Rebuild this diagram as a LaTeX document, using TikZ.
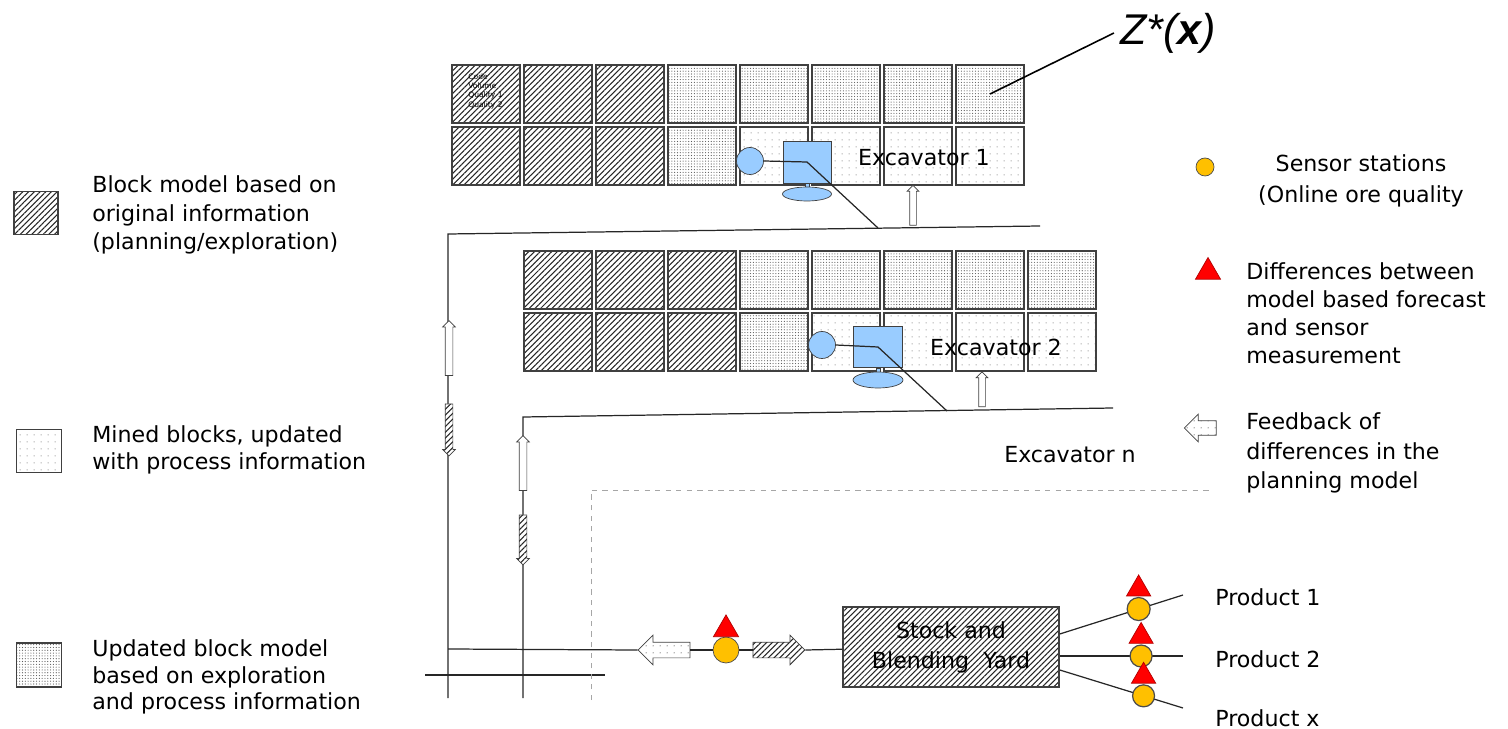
\documentclass[tikz,border=0pt]{standalone}
\usepackage{fontspec}
\setmainfont{DejaVu Sans}
\newfontfamily\zfont{Liberation Sans}
\usetikzlibrary{patterns.meta,shapes.geometric,shapes.arrows}

\definecolor{excblue}{RGB}{153,204,255}
\definecolor{sensorange}{RGB}{255,192,0}
\definecolor{diffred}{RGB}{255,0,0}

\tikzset{
  blk/.style={draw=black!75,line width=0.9pt,minimum width=1.36cm,minimum height=1.16cm,inner sep=0pt},
  hatch/.style={pattern={Lines[angle=45,distance=2.3pt,line width=0.6pt]},pattern color=black!85},
  oldblk/.style={blk,hatch},
  minedblk/.style={blk,pattern={Dots[distance=4pt,radius=0.35pt]},pattern color=black!50},
  updblk/.style={blk,pattern={Dots[distance=1.6pt,radius=0.33pt]},pattern color=black!65},
  exc/.style={draw=black!75,fill=excblue,inner sep=0pt},
  sensor/.style={circle,draw=black!70,fill=sensorange,minimum size=0.52cm,inner sep=0pt},
  diff/.style={regular polygon,regular polygon sides=3,draw=diffred!70!black,fill=diffred,
    minimum size=0.58cm,inner sep=0pt,outer sep=0pt},
  flowarr/.style={single arrow,draw=black!75,inner xsep=0pt,inner ysep=0.07cm,
    single arrow head extend=0.05cm},
  upfb/.style={flowarr,fill=white,rotate=90,minimum height=1.1cm},
  downore/.style={flowarr,preaction={fill=white},hatch,rotate=-90,minimum height=1.04cm},
  bigarr/.style={single arrow,draw=black!75,inner xsep=0pt,inner ysep=0.15cm,
    single arrow head extend=0.14cm,minimum height=1.04cm,preaction={fill=white}},
  legtext/.style={anchor=west,align=left,inner sep=0pt},
  haul/.style={black!85,line width=0.7pt},
}

\begin{document}
\begin{tikzpicture}[x=0.02cm,y=-0.02cm,font=\fontsize{12.6}{16}\selectfont]
  \useasboundingbox (0,0) rectangle (1508,729);

  % block rows, upper bench and lower bench
  \foreach \i/\kind in {0/oldblk,1/oldblk,2/oldblk,3/updblk,4/updblk,5/updblk,6/updblk,7/updblk}{
    \node[\kind] (ba\i) at (486+72*\i,94) {};
    \node[\kind] (bc\i) at (558+72*\i,280) {};
  }
  \foreach \i/\kind in {0/oldblk,1/oldblk,2/oldblk,3/updblk,4/minedblk,5/minedblk,6/minedblk,7/minedblk}{
    \node[\kind] (bb\i) at (486+72*\i,156) {};
    \node[\kind] (bd\i) at (558+72*\i,342) {};
  }
  \node[legtext,anchor=north west,font=\fontsize{4.3}{5.3}\selectfont] (blkinfo) at (468,73)
    {Code\\Volume\\Quality 1\\Quality 2};

  % Z*(x)
  \node[font=\zfont\fontsize{24.5}{28}\selectfont\itshape] (zlab) at (1168,33) {Z*(\textbf{x})};
  \draw[line width=0.9pt] (ba7.center) -- (zlab.west);

  % ground lines of the benches
  \coordinate (g1w) at (448,234);
  \coordinate (g1e) at (1040,226);
  \coordinate (g1c) at (878,228);
  \coordinate (g2w) at (523,417);
  \coordinate (g2e) at (1113,408);
  \coordinate (g2c) at (947,411);
  \coordinate (g1s) at (448,698);
  \coordinate (g2s) at (523,698);
  \coordinate (jn) at (448,649);
  \draw[haul] (g1e) -- (g1w) -- (g1s);
  \draw[haul] (g2e) -- (g2w) -- (g2s);
  \draw[haul] (425,675) -- (605,675);
  \draw[dashed,black!35] (591,700) |- (1210,490);

  % excavator 1
  \node[exc,circle,minimum size=0.54cm] (wh1) at (750,161) {};
  \node[exc,minimum width=0.96cm,minimum height=0.84cm] (cab1) at (807,162) {};
  \draw[exc] (805,183) rectangle (809,187);
  \node[exc,ellipse,minimum width=0.98cm,minimum height=0.28cm] (trk1) at (807,194) {};
  \draw[haul] (wh1.east) -- (cab1.center) -- (g1c);
  \node[upfb,minimum height=0.8cm,inner ysep=0.06cm] (up1) at (913,207) {};
  \node (ex1) at (924,158) {Excavator 1};

  % excavator 2
  \node[exc,circle,minimum size=0.54cm] (wh2) at (822,345) {};
  \node[exc,minimum width=0.98cm,minimum height=0.82cm] (cab2) at (878,347) {};
  \draw[exc] (876,368) rectangle (880,372);
  \node[exc,ellipse,minimum width=1.0cm,minimum height=0.32cm] (trk2) at (878,380) {};
  \draw[haul] (wh2.east) -- (cab2.center) -- (g2c);
  \node[upfb,minimum height=0.7cm,inner ysep=0.06cm] (up2) at (982,391) {};
  \node (ex2) at (996,347) {Excavator 2};
  \node (exn) at (1070,455) {Excavator n};

  % feedback and ore flow along the haul lines
  \node[upfb] (fb1) at (449,350) {};
  \node[downore] (ore1) at (449,428) {};
  \node[upfb] (fb2) at (523,465) {};
  \node[downore,minimum height=1.0cm] (ore2) at (523,538) {};

  % stock yard and products
  \node[blk,hatch,minimum width=4.32cm,minimum height=1.6cm,align=center,
    font=\fontsize{12.6}{17}\selectfont] (yard) at (951,647) {Stock and\\Blending\ \ Yard};
  \node[sensor] (s0) at (726,650) {};
  \node[diff,anchor=south] (t0) at (s0.north) {};
  \node[bigarr,rotate=180,pattern={Dots[distance=4pt,radius=0.4pt]},pattern color=black!55] (fb0) at (668,650) {};
  \node[bigarr,hatch] (ore0) at (775,650) {};
  \draw[haul] (jn) -- (fb0.tip);
  \draw[haul] (fb0.tail) -- (s0);
  \draw[haul] (s0) -- (ore0.tail);
  \draw[haul] (ore0.tip) -- (yard);

  \coordinate (p1) at (1183,595);
  \coordinate (p2) at (1183,656);
  \coordinate (p3) at (1183,708);
  \draw[haul] ([shift={(0,-13)}]yard.east) -- node[sensor,pos=0.64,minimum size=0.46cm] (s1) {} (p1);
  \draw[haul] ([shift={(0,9)}]yard.east) -- node[sensor,pos=0.66,minimum size=0.44cm] (s2) {} (p2);
  \draw[haul] ([shift={(0,23)}]yard.east) -- node[sensor,pos=0.68,minimum size=0.44cm] (s3) {} (p3);
  \foreach \n in {1,2,3}{
    \node[diff,anchor=south,minimum size=0.56cm] (t\n) at ([shift={(0,-1)}]s\n.north) {};
  }
  \node[anchor=west,inner sep=0pt] (prod1) at (1215,597) {Product 1};
  \node[anchor=west,inner sep=0pt] (prod2) at (1215,659) {Product 2};
  \node[anchor=west,inner sep=0pt] (prodx) at (1215,718) {Product x};

  % legend, left
  \node[oldblk,minimum width=0.88cm,minimum height=0.86cm,line width=0.7pt] (lold) at (36,213) {};
  \node[legtext] (lold-t) at (92,215) {Block model based on\\original information\\(planning/exploration)};
  \node[minedblk,minimum width=0.9cm,minimum height=0.86cm,line width=0.7pt] (lmin) at (39,451) {};
  \node[legtext,font=\fontsize{12.6}{15}\selectfont] (lmin-t) at (92,450) {Mined blocks, updated\\with process information};
  \node[updblk,minimum width=0.9cm,minimum height=0.88cm,line width=0.7pt] (lupd) at (39,665) {};
  \node[legtext,font=\fontsize{12.6}{15}\selectfont] (lupd-t) at (92,677) {Updated block model\\based on exploration\\and process information};

  % legend, right
  \node[sensor,minimum size=0.36cm] (lsen) at (1205,167) {};
  \node[align=center,inner sep=0pt,font=\fontsize{12.6}{18}\selectfont] (lsen-t) at (1361,181) {Sensor stations\\(Online ore quality};
  \node[diff,minimum size=0.58cm] (ldif) at (1208,272) {};
  \node[legtext] (ldif-t) at (1246,313) {Differences between\\model based forecast\\and sensor\\measurement};
  \node[bigarr,rotate=180,minimum height=0.64cm,inner ysep=0.14cm,single arrow head extend=0.13cm,
    pattern={Dots[distance=4pt,radius=0.4pt]},pattern color=black!55] (lfb) at (1204,428) {};
  \node[legtext,font=\fontsize{12.6}{17}\selectfont] (lfb-t) at (1246,453) {Feedback of\\differences in the\\planning model};
\end{tikzpicture}
\end{document}
